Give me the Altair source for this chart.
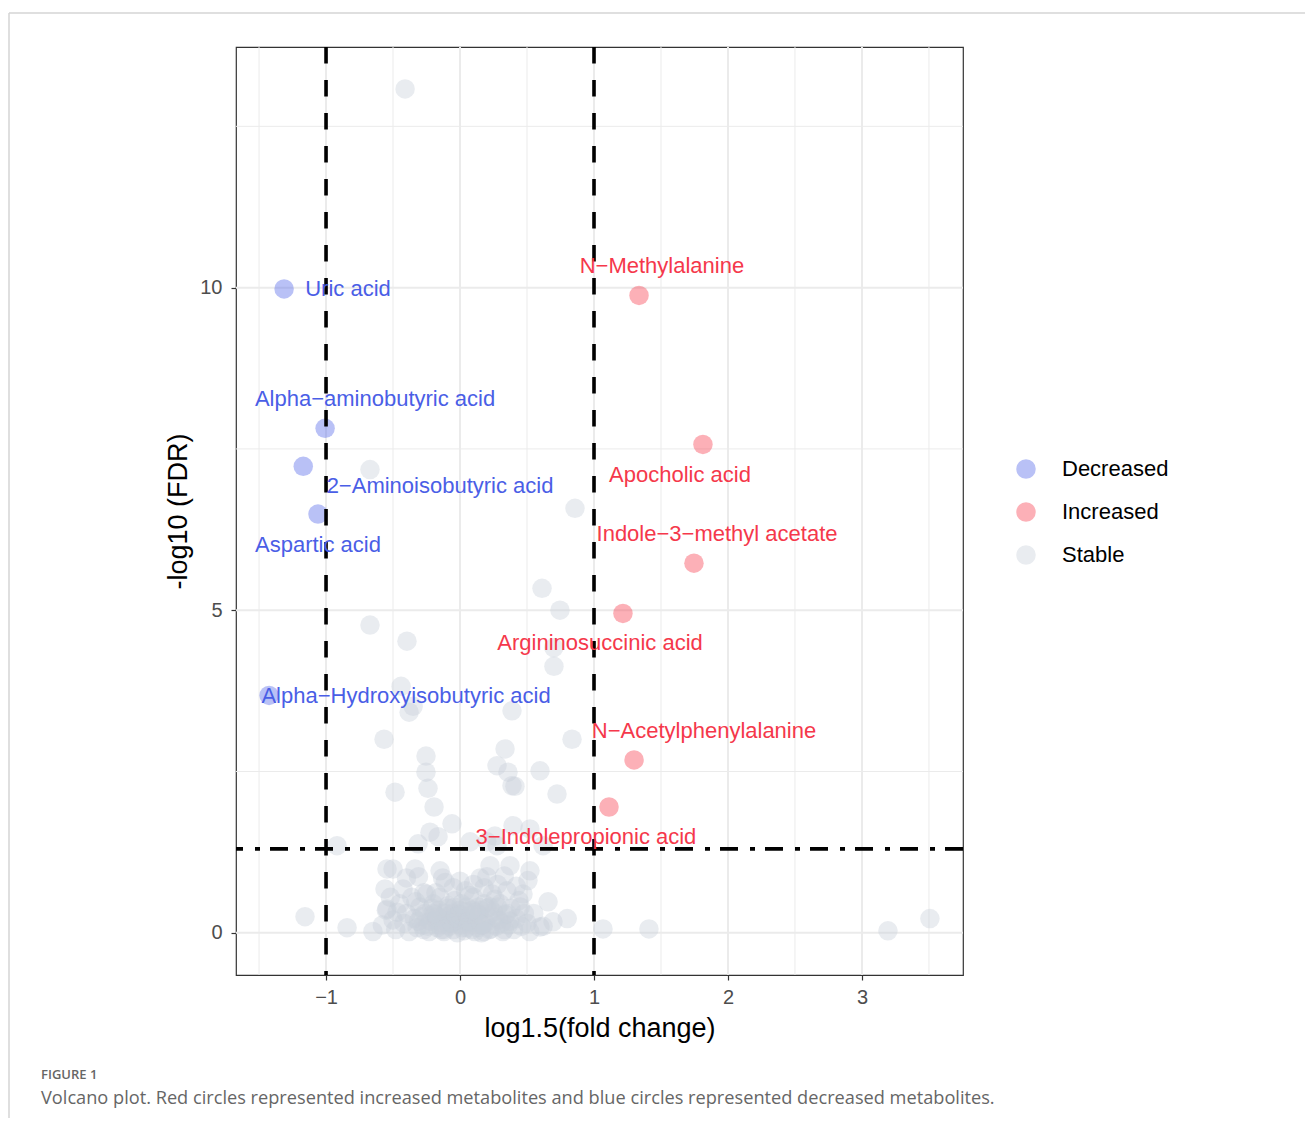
import altair as alt
import pandas as pd

# ---------------- data ----------------
dec_names = ["Uric acid", "Alpha−aminobutyric acid", "2−Aminoisobutyric acid",
             "Aspartic acid", "Alpha−Hydroxyisobutyric acid"]
dec_x = [-1.313, -1.007, -1.17, -1.06, -1.425]
dec_y = [9.98, 7.82, 7.23, 6.49, 3.68]
dec_label_x = [-0.836, -0.634, -0.149, -1.06, -0.403]
dec_label_y = [9.98, 8.27, 6.93, 6.01, 3.67]

inc_names = ["N−Methylalanine", "Apocholic acid", "Indole−3−methyl acetate",
             "Argininosuccinic acid", "N−Acetylphenylalanine", "3−Indolepropionic acid"]
inc_x = [1.336, 1.813, 1.746, 1.216, 1.299, 1.112]
inc_y = [9.88, 7.57, 5.73, 4.95, 2.68, 1.95]
inc_label_x = [1.507, 1.642, 1.918, 1.045, 1.821, 0.940]
inc_label_y = [10.33, 7.09, 6.18, 4.49, 3.13, 1.49]

stable_x = [
    -0.41, -0.672, 0.858, 0.612, 0.746, -0.672, -0.396, 0.70, 0.701, -0.44,
    -0.35, -0.38, 0.388, -0.567, 0.836, -0.254, 0.336, 0.276, 0.358, 0.597,
    0.388, 0.41, 0.724, -0.254, -0.239, -0.485, -0.194, -0.06, -0.224, -0.164,
    -0.313, -0.918, 0.396, 0.522, 0.26, 0.20, 0.075, 0.276, 0.62,
    -1.157, -0.843, -0.65, -0.56, -0.545, -0.50, -0.545, -0.425, -0.336, -0.31,
    -0.149, -0.13, 0.224, 0.20, 0.373, 0.522, 0.507, 0.35, 0.657, 0.80,
    0.597, 0.694, 1.067, 1.41, 3.194, 3.507,
    -0.55, -0.50, -0.48, -0.45, -0.42, -0.40, -0.38, -0.36, -0.34, -0.32,
    -0.30, -0.28, -0.26, -0.25, -0.23, -0.22, -0.20, -0.19, -0.17, -0.16,
    -0.15, -0.13, -0.12, -0.10, -0.09, -0.08, -0.06, -0.05, -0.04, -0.03,
    -0.02, 0.00, 0.01, 0.02, 0.03, 0.05, 0.06, 0.08, 0.09, 0.10,
    0.12, 0.13, 0.15, 0.16, 0.18, 0.19, 0.21, 0.22, 0.24, 0.25,
    0.27, 0.29, 0.30, 0.32, 0.34, 0.36, 0.38, 0.40, 0.42, 0.44,
    0.46, 0.48, 0.50, 0.52,
    -0.05, 0.00, 0.10, 0.28, 0.42, 0.15,
    -0.58, -0.47, -0.33, -0.18, -0.07, 0.04, 0.14, 0.26, 0.37, 0.47,
    -0.52, -0.40, -0.27, -0.11, 0.07, 0.18, 0.33, 0.45, 0.55, 0.62,
    -0.29, -0.24, -0.21, -0.18, -0.14, -0.11, -0.07, -0.04, -0.01, 0.02,
    0.04, 0.07, 0.11, 0.14, 0.17, 0.20, 0.23, 0.26, 0.31, 0.35,
    -0.27, -0.20, -0.15, -0.09, -0.03, 0.01, 0.06, 0.12, 0.18, 0.28,
    -0.31, -0.17, -0.12, -0.06, 0.00, 0.05, 0.09, 0.16, 0.22, 0.33,
]
stable_y = [
    13.08, 7.18, 6.58, 5.34, 5.00, 4.77, 4.52, 4.42, 4.13, 3.82,
    3.51, 3.42, 3.44, 3.00, 3.00, 2.74, 2.85, 2.59, 2.49, 2.51,
    2.28, 2.27, 2.15, 2.49, 2.24, 2.18, 1.95, 1.69, 1.56, 1.49,
    1.38, 1.35, 1.66, 1.61, 1.50, 1.41, 1.41, 1.35, 1.35,
    0.25, 0.08, 0.02, 0.68, 0.99, 0.99, 0.37, 0.68, 0.99, 0.87,
    0.96, 0.85, 1.04, 0.87, 1.04, 0.96, 0.81, 0.65, 0.48, 0.22,
    0.09, 0.17, 0.06, 0.06, 0.03, 0.22,
    0.35, 0.20, 0.05, 0.45, 0.15, 0.30, 0.02, 0.55, 0.22, 0.08,
    0.40, 0.12, 0.30, 0.60, 0.02, 0.18, 0.45, 0.28, 0.08, 0.35,
    0.55, 0.15, 0.02, 0.25, 0.42, 0.10, 0.30, 0.05, 0.50, 0.18,
    0.00, 0.35, 0.12, 0.22, 0.03, 0.40, 0.15, 0.28, 0.05, 0.55,
    0.20, 0.08, 0.35, 0.00, 0.45, 0.15, 0.25, 0.05, 0.60, 0.32,
    0.10, 0.20, 0.45, 0.02, 0.28, 0.12, 0.38, 0.05, 0.22, 0.50,
    0.10, 0.30, 0.15, 0.02,
    0.70, 0.80, 0.75, 0.75, 0.72, 0.85,
    0.12, 0.32, 0.48, 0.62, 0.20, 0.65, 0.40, 0.52, 0.18, 0.60,
    0.55, 0.85, 0.62, 0.78, 0.58, 0.70, 0.88, 0.40, 0.30, 0.10,
    0.25, 0.10, 0.38, 0.20, 0.05, 0.30, 0.15, 0.40, 0.22, 0.08,
    0.33, 0.18, 0.02, 0.28, 0.12, 0.38, 0.06, 0.24, 0.15, 0.30,
    0.05, 0.30, 0.12, 0.38, 0.25, 0.45, 0.18, 0.32, 0.02, 0.40,
    0.18, 0.25, 0.05, 0.15, 0.28, 0.08, 0.35, 0.12, 0.40, 0.05,
]

groups = ["Decreased", "Increased", "Stable"]
point_colors = ["#5064E8", "#F8394C", "#C8D0DA"]

x_major = [-1, 0, 1, 2, 3]
x_minor = [-1.5, -0.5, 0.5, 1.5, 2.5, 3.5]
y_major = [0, 5, 10]
y_minor = [2.5, 7.5, 12.5]
fc_cut = [-1, 1]
fdr_cut = [1.301]

caption_head = "FIGURE 1"
caption_text = ("Volcano plot. Red circles represented increased metabolites and "
                "blue circles represented decreased metabolites.")

# ---------------- chart ----------------
FONT = "Liberation Sans"
xs = alt.Scale(domain=[-1.672, 3.754], nice=False, zero=False)
ys = alt.Scale(domain=[-0.654, 13.73], nice=False, zero=False)

x_axis = alt.Axis(values=x_major, format="d", title="log1.5(fold change)", grid=False,
                  domain=False, tickSize=5, tickColor="#333333", tickWidth=1.2,
                  labelFontSize=20, labelColor="#4D4D4D", labelPadding=7,
                  labelFont=FONT, titleFont=FONT, titleFontSize=27,
                  titleFontWeight="normal", titleColor="black", titlePadding=8)
y_axis = alt.Axis(values=y_major, format="d", title="-log10 (FDR)", grid=False,
                  domain=False, tickSize=5, tickColor="#333333", tickWidth=1.2,
                  labelFontSize=20, labelColor="#4D4D4D", labelPadding=9,
                  labelFont=FONT, titleFont=FONT, titleFontSize=27,
                  titleFontWeight="normal", titleColor="black", titlePadding=7)


def X(field):
    return alt.X(field, scale=xs, axis=x_axis)


def Y(field):
    return alt.Y(field, scale=ys, axis=y_axis)


gx_minor = alt.Chart(pd.DataFrame({"v": x_minor})).mark_rule(color="#EBEBEB", strokeWidth=1).encode(x=X("v:Q"))
gy_minor = alt.Chart(pd.DataFrame({"v": y_minor})).mark_rule(color="#EBEBEB", strokeWidth=1).encode(y=Y("v:Q"))
gx_major = alt.Chart(pd.DataFrame({"v": x_major})).mark_rule(color="#EBEBEB", strokeWidth=2).encode(x=X("v:Q"))
gy_major = alt.Chart(pd.DataFrame({"v": y_major})).mark_rule(color="#EBEBEB", strokeWidth=2).encode(y=Y("v:Q"))

pts = pd.DataFrame({
    "x": stable_x + dec_x + inc_x,
    "y": stable_y + dec_y + inc_y,
    "group": ["Stable"] * len(stable_x) + ["Decreased"] * len(dec_x) + ["Increased"] * len(inc_x),
})
points = alt.Chart(pts).mark_circle(size=380, opacity=0.4).encode(
    x=X("x:Q"),
    y=Y("y:Q"),
    color=alt.Color("group:N", scale=alt.Scale(domain=groups, range=point_colors),
                    legend=alt.Legend(title=None, orient="none", legendX=779, legendY=411,
                                      symbolType="circle", symbolSize=380, symbolOpacity=0.4,
                                      labelFontSize=22, labelFont=FONT, labelColor="black",
                                      rowPadding=21, labelOffset=25, padding=0)),
)

vlines = alt.Chart(pd.DataFrame({"v": fc_cut})).mark_rule(
    color="black", strokeWidth=3.6, strokeDash=[16.5, 16.5]).encode(x=X("v:Q"))
hline = alt.Chart(pd.DataFrame({"v": fdr_cut})).mark_rule(
    color="black", strokeWidth=3.6, strokeDash=[18, 10, 5, 12]).encode(y=Y("v:Q"))

dec_lab = alt.Chart(pd.DataFrame({"x": dec_label_x, "y": dec_label_y, "t": dec_names})).mark_text(
    font=FONT, fontSize=22, color="#4A5EE6", align="center", baseline="middle").encode(
    x=X("x:Q"), y=Y("y:Q"), text="t:N")
inc_lab = alt.Chart(pd.DataFrame({"x": inc_label_x, "y": inc_label_y, "t": inc_names})).mark_text(
    font=FONT, fontSize=22, color="#F5384B", align="center", baseline="middle").encode(
    x=X("x:Q"), y=Y("y:Q"), text="t:N")

frame_df = pd.DataFrame({"k": [0]})
frame_top = alt.Chart(frame_df).mark_rule(color="#D4D4D4", strokeWidth=1.5).encode(
    x=alt.value(-227), x2=alt.value(1069), y=alt.value(-34))
frame_left = alt.Chart(frame_df).mark_rule(color="#D4D4D4", strokeWidth=1.5).encode(
    x=alt.value(-227), y=alt.value(-34), y2=alt.value(1071))

chart = alt.layer(
    gx_minor, gy_minor, gx_major, gy_major, points, vlines, hline, dec_lab, inc_lab,
    frame_top, frame_left,
).properties(
    width=727, height=928,
    padding={"left": 0, "top": 4, "right": 0, "bottom": 0},
    title=alt.TitleParams(
        text=caption_head, subtitle=caption_text, orient="bottom", anchor="start",
        frame="group", dx=-195, offset=-50, font="Open Sans", fontSize=13, fontWeight=600,
        color="#666666", subtitleFont="Open Sans", subtitleFontSize=18.2,
        subtitleColor="#666666", subtitlePadding=8),
).configure(background="white").configure_view(stroke="#333333", strokeWidth=1.2)

chart.save("out.html", embed_options={"renderer": "svg", "actions": False})
